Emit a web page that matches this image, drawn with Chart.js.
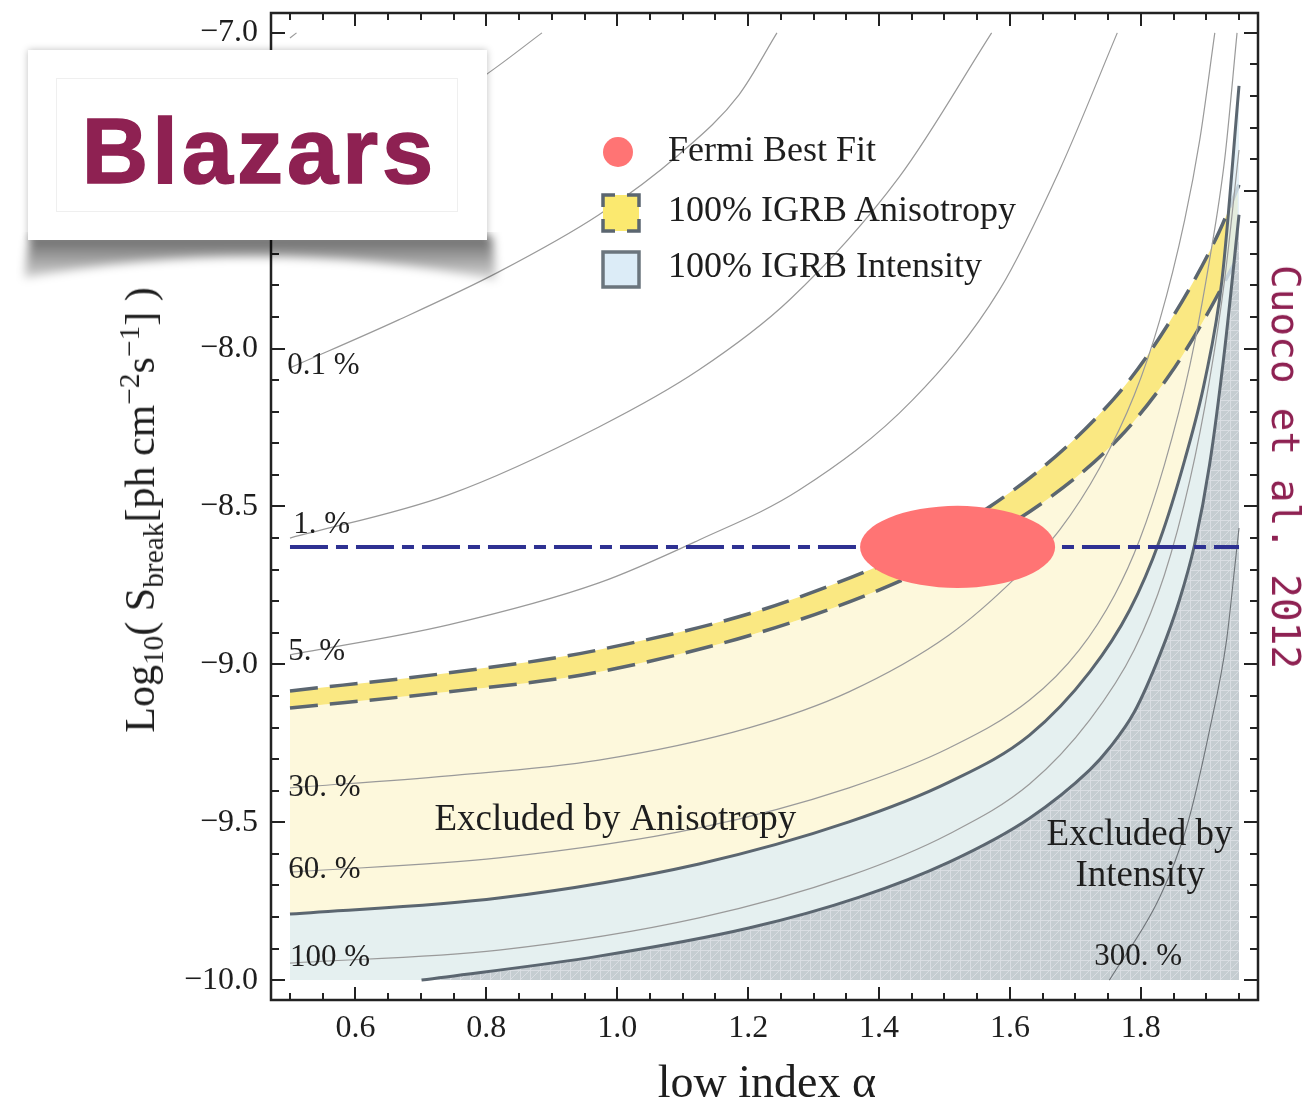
<!DOCTYPE html>
<html lang="en">
<head>
<meta charset="utf-8">
<title>Blazars - S_break vs low index</title>
<script src="https://cdn.jsdelivr.net/npm/chart.js@4.4.1/dist/chart.umd.min.js"></script>
<style>
  html, body { margin: 0; padding: 0; background: #fff; }
  #stage { position: relative; width: 1307px; height: 1103px; overflow: hidden; background: #fff; }
  #plot { position: absolute; left: 0; top: 0; display: block; }
  .serif { font-family: 'Liberation Serif', 'Times New Roman', serif; color: #1e1e1e; white-space: nowrap; }

  .blz-shadow { position: absolute; left: 16px; top: 232px; z-index: 9; }
  .blz { position: absolute; left: 28px; top: 50px; width: 459px; height: 190px; z-index: 10; background: #fff;
    box-shadow: 0 0 7px rgba(0,0,0,0.25); }
  .blz-inner { position: absolute; left: 28px; top: 28px; width: 402px; height: 134px; border: 1px solid #efefef; box-sizing: border-box; }
  .blz-text { position: absolute; left: 0; top: 55px; width: 100%; text-align: center; padding-left: 4px; box-sizing: border-box;
    font: bold 92px 'Liberation Sans', Arial, sans-serif; line-height: 92px; letter-spacing: 4px; color: #8E2152;
    -webkit-text-stroke: 1.5px #8E2152; }

  .leg-dot { position: absolute; left: 603px; top: 137px; width: 30px; height: 30px; border-radius: 50%; background: #FF7474; }
  .leg-text { position: absolute; left: 668px; font-size: 36px; line-height: 36px; }
  .leg-box { position: absolute; }

  .ytitle { position: absolute; left: 140px; top: 510px; transform: translate(-50%, -50%) rotate(-90deg);
    font-size: 42px; line-height: 42px; }
  .ytitle sub, .ytitle sup { font-size: 70%; line-height: 0; }
  .xtitle { position: absolute; left: 767px; top: 1082px; transform: translate(-50%, -50%); font-size: 46px; line-height: 46px; }
  .cite { position: absolute; left: 1286px; top: 467px; transform: translate(-50%, -50%) rotate(90deg);
    font-family: 'DejaVu Sans Mono', 'Liberation Mono', monospace; font-size: 39.5px; line-height: 40px; color: #8E2152; white-space: nowrap; }
</style>
</head>
<body>
<div id="stage">
  <canvas id="plot" width="1307" height="1103"></canvas>

  <svg class="blz-shadow" width="490" height="70">
    <defs>
      <filter id="soft" x="-10%" y="-40%" width="120%" height="180%"><feGaussianBlur stdDeviation="5"></feGaussianBlur></filter>
      <linearGradient id="shade" x1="0" y1="0" x2="0" y2="1">
        <stop offset="0" stop-color="#000" stop-opacity="0.6"></stop>
        <stop offset="1" stop-color="#000" stop-opacity="0.15"></stop>
      </linearGradient>
    </defs>
    <path d="M 14 4 L 476 4 L 480 48 Q 245 2 8 46 Z" fill="url(#shade)" filter="url(#soft)"></path>
  </svg>
  <div class="blz"><div class="blz-inner"></div><div class="blz-text">Blazars</div></div>

  <div class="leg-dot"></div>
  <div class="serif leg-text" style="top:131px">Fermi Best Fit</div>
  <svg class="leg-box" style="left:601px;top:193px" width="40" height="40">
    <rect x="2" y="2" width="36" height="36" fill="#FBE96F" stroke="#5B6670" stroke-width="3.5" stroke-dasharray="24 12" stroke-dashoffset="12"></rect>
  </svg>
  <div class="serif leg-text" style="top:191px">100% IGRB Anisotropy</div>
  <svg class="leg-box" style="left:601px;top:250px" width="40" height="40">
    <rect x="2" y="2" width="36" height="35" fill="#DCECF7" stroke="#6B757D" stroke-width="3.5"></rect>
  </svg>
  <div class="serif leg-text" style="top:247px">100% IGRB Intensity</div>

  <div class="serif ytitle">Log<sub>10</sub>( S<sub>break</sub>[ph cm<sup>&minus;2</sup>s<sup>&minus;1</sup>] )</div>
  <div class="serif xtitle">low index &alpha;</div>
  <div class="cite">Cuoco et al. 2012</div>
</div>

<script>
// axis ranges and ticks
const xRange = [0.471, 1.979];
const yRange = [-10.063, -6.937];
const xMajorTicks = [0.6, 0.8, 1.0, 1.2, 1.4, 1.6, 1.8];
const yMajorTicks = [-10.0, -9.5, -9.0, -8.5, -8.0, -7.5, -7.0];
const xMinorStep = 0.05;
const yMinorStep = 0.1;

// thin contours (fraction of IGRB)
const pct0001X = [0.5, 0.51];
const pct0001Y = [-7.016, -7.0];
const pct001X = [0.5, 0.666, 0.799, 0.885];
const pct001Y = [-7.481, -7.307, -7.133, -7.0];
const pct01X = [0.5, 0.666, 0.819, 0.972, 1.094, 1.186, 1.244];
const pct01Y = [-8.061, -7.909, -7.757, -7.576, -7.386, -7.196, -7.0];
const pct1X = [0.5, 0.742, 0.972, 1.125, 1.263, 1.431, 1.572];
const pct1Y = [-8.600, -8.463, -8.248, -8.067, -7.846, -7.456, -7.0];
const pct5X = [0.5, 0.742, 0.972, 1.125, 1.278, 1.451, 1.584, 1.676, 1.764];
const pct5Y = [-8.970, -8.875, -8.742, -8.606, -8.448, -8.163, -7.814, -7.434, -7.0];
const pct30X = [0.5, 0.742, 0.972, 1.201, 1.354, 1.507, 1.610, 1.676, 1.737, 1.790, 1.829, 1.867, 1.890, 1.913];
const pct30Y = [-9.391, -9.353, -9.303, -9.201, -9.087, -8.907, -8.723, -8.574, -8.378, -8.147, -7.909, -7.592, -7.339, -7.0];
const pct60X = [0.5, 0.819, 1.125, 1.354, 1.507, 1.630, 1.706, 1.760, 1.798, 1.836, 1.875, 1.905, 1.928, 1.947];
const pct60Y = [-9.658, -9.613, -9.518, -9.391, -9.265, -9.113, -8.954, -8.780, -8.606, -8.368, -8.052, -7.719, -7.402, -7.0];
const pct100X = [0.5, 0.819, 1.125, 1.354, 1.507, 1.630, 1.722, 1.790, 1.836, 1.875, 1.905, 1.928, 1.950];
const pct100Y = [-9.946, -9.905, -9.803, -9.670, -9.537, -9.379, -9.176, -8.954, -8.717, -8.416, -8.099, -7.782, -7.371];
const pct300X = [1.752, 1.829, 1.870, 1.905, 1.931, 1.943, 1.950];
const pct300Y = [-10.0, -9.737, -9.515, -9.208, -8.923, -8.701, -8.568];

// 100% IGRB anisotropy band (dashed edges)
const anisoUpperX = [0.5, 0.742, 0.972, 1.278, 1.569, 1.757, 1.841, 1.916, 1.950];
const anisoUpperY = [-9.084, -9.027, -8.954, -8.787, -8.501, -8.163, -7.925, -7.646, -7.481];
const anisoLowerX = [0.5, 0.742, 0.972, 1.278, 1.507, 1.660, 1.768, 1.844, 1.898, 1.948];
const anisoLowerY = [-9.138, -9.087, -9.024, -8.859, -8.663, -8.473, -8.280, -8.083, -7.903, -7.710];

// 100% IGRB intensity band (solid dark edges)
const intensUpperX = [0.5, 0.819, 1.125, 1.354, 1.507, 1.630, 1.722, 1.783, 1.829, 1.867, 1.898, 1.924, 1.950];
const intensUpperY = [-9.791, -9.740, -9.632, -9.499, -9.373, -9.224, -9.024, -8.828, -8.606, -8.353, -8.099, -7.782, -7.168];
const intensLowerX = [0.701, 0.972, 1.201, 1.370, 1.507, 1.630, 1.722, 1.752, 1.790, 1.829, 1.859, 1.882, 1.905, 1.928, 1.950];
const intensLowerY = [-10.0, -9.924, -9.835, -9.737, -9.626, -9.487, -9.334, -9.265, -9.151, -8.970, -8.796, -8.622, -8.368, -8.004, -7.576];

// Fermi best fit
const fermiCenter = [1.520, -8.628];
const fermiRadius = [0.149, 0.130];
const fermiLineX = [0.5, 1.95];
const fermiLineY = [-8.628, -8.628];

// labels
const contourLabels = ['0.1 %', '1. %', '5. %', '30. %', '60. %', '100 %', '300. %'];
const contourLabelX = [0.496, 0.505, 0.4975, 0.4975, 0.4975, 0.500, 1.729];
const contourLabelY = [-8.055, -8.558, -8.961, -9.391, -9.651, -9.930, -9.927];
const regionLabels = ['Excluded by Anisotropy', 'Excluded by', 'Intensity'];
const regionLabelX = [0.997, 1.798, 1.799];
const regionLabelY = [-9.525, -9.572, -9.702];

const SERIF = "'Liberation Serif', 'Times New Roman', serif";
const colLightYellow = '#FDF8DC';
const colBand = '#FAE882';
const colBlue = 'rgba(222,237,245,0.8)';
const colDark = '#5B6670';
const colThin = '#9a9a9a';

function stepList(a, b, step) {
  const out = [];
  for (let v = a; v <= b + 1e-9; v += step) out.push(Math.round(v * 1000) / 1000);
  return out;
}
const xTickList = stepList(0.5, 1.95, xMinorStep);
const yTickList = stepList(-10, -7, yMinorStep);
const isMajor = (list, v) => list.some((m) => Math.abs(m - v) < 1e-6);

function pts(xs, ys) {
  return xs.map((x, i) => ({ x, y: ys[i] }));
}

function hatch(base, line) {
  const c = document.createElement('canvas');
  c.width = 10; c.height = 10;
  const g = c.getContext('2d');
  g.fillStyle = base;
  g.fillRect(0, 0, 10, 10);
  g.strokeStyle = line;
  g.lineWidth = 1;
  g.beginPath();
  g.moveTo(0, 0.5); g.lineTo(10, 0.5);
  g.moveTo(0.5, 0); g.lineTo(0.5, 10);
  g.moveTo(0, 10); g.lineTo(10, 0);
  g.stroke();
  return g.createPattern(c, 'repeat');
}

function curve(xs, ys, extra) {
  return Object.assign({
    data: pts(xs, ys),
    pointRadius: 0,
    pointHoverRadius: 0,
    cubicInterpolationMode: 'monotone',
    fill: false,
    borderColor: 'rgba(0,0,0,0)',
    borderWidth: 1
  }, extra);
}

const grayFill = hatch('rgba(192,199,204,0.88)', 'rgba(218,223,227,0.9)');
const thinContours = [
  [pct0001X, pct0001Y], [pct001X, pct001Y], [pct01X, pct01Y], [pct1X, pct1Y],
  [pct5X, pct5Y], [pct30X, pct30Y], [pct60X, pct60Y], [pct100X, pct100Y]
];

const datasets = [
  curve(anisoUpperX, anisoUpperY, { fill: 1, backgroundColor: colBand, order: 90 }),
  curve(anisoLowerX, anisoLowerY, { fill: { value: -10 }, backgroundColor: colLightYellow, order: 100 }),
  curve(intensUpperX, intensUpperY, { fill: { value: -10 }, backgroundColor: colBlue, order: 80 }),
  curve(intensLowerX, intensLowerY, { fill: { value: -10 }, backgroundColor: grayFill, order: 70 }),
  ...thinContours.map((c) => curve(c[0], c[1], { borderColor: colThin, borderWidth: 1.2, order: 50 })),
  curve(pct300X, pct300Y, { borderColor: '#6f7479', borderWidth: 1.1, order: 50 }),
  curve(intensUpperX, intensUpperY, { borderColor: colDark, borderWidth: 3, order: 40 }),
  curve(intensLowerX, intensLowerY, { borderColor: colDark, borderWidth: 3, order: 40 }),
  curve(anisoUpperX, anisoUpperY, { borderColor: colDark, borderWidth: 3.5, borderDash: [28, 12], order: 85 }),
  curve(anisoLowerX, anisoLowerY, { borderColor: colDark, borderWidth: 3.5, borderDash: [28, 12], order: 85 }),
  curve(fermiLineX, fermiLineY, { borderColor: '#2E3192', borderWidth: 4, borderDash: [38, 8, 12, 8],
    cubicInterpolationMode: 'default', tension: 0, order: 20 })
];

// ellipse + in-plot text, drawn on top of the datasets
const annotations = {
  id: 'annotations',
  afterDatasetsDraw(chart) {
    const { ctx, scales: { x, y } } = chart;
    const cx = x.getPixelForValue(fermiCenter[0]);
    const cy = y.getPixelForValue(fermiCenter[1]);
    const rx = Math.abs(x.getPixelForValue(fermiCenter[0] + fermiRadius[0]) - cx);
    const ry = Math.abs(y.getPixelForValue(fermiCenter[1] + fermiRadius[1]) - cy);
    ctx.save();
    ctx.fillStyle = '#FF7474';
    ctx.beginPath();
    ctx.ellipse(cx, cy, rx, ry, 0, 0, Math.PI * 2);
    ctx.fill();

    ctx.fillStyle = '#1e1e1e';
    ctx.font = `31px ${SERIF}`;
    ctx.textAlign = 'left';
    ctx.textBaseline = 'middle';
    contourLabels.forEach((s, i) => {
      ctx.fillText(s, x.getPixelForValue(contourLabelX[i]), y.getPixelForValue(contourLabelY[i]));
    });

    ctx.font = `37px ${SERIF}`;
    ctx.textAlign = 'center';
    ctx.textBaseline = 'alphabetic';
    regionLabels.forEach((s, i) => {
      ctx.fillText(s, x.getPixelForValue(regionLabelX[i]), y.getPixelForValue(regionLabelY[i]));
    });
    ctx.restore();
  }
};

// frame with inward ticks on all four sides
const frame = {
  id: 'frame',
  afterDraw(chart) {
    const { ctx, chartArea: a, scales: { x, y } } = chart;
    ctx.save();
    ctx.strokeStyle = '#222';
    ctx.lineWidth = 2;
    ctx.beginPath();
    x.ticks.forEach((t) => {
      const px = Math.round(x.getPixelForValue(t.value));
      const len = t.label ? 13 : 7;
      ctx.moveTo(px, a.bottom); ctx.lineTo(px, a.bottom - len);
      ctx.moveTo(px, a.top); ctx.lineTo(px, a.top + len);
    });
    y.ticks.forEach((t) => {
      const py = Math.round(y.getPixelForValue(t.value));
      const len = t.label ? 14 : 8;
      ctx.moveTo(a.left, py); ctx.lineTo(a.left + len, py);
      ctx.moveTo(a.right, py); ctx.lineTo(a.right - len, py);
    });
    ctx.stroke();
    ctx.lineWidth = 2.5;
    ctx.strokeRect(a.left, a.top, a.right - a.left, a.bottom - a.top);
    ctx.restore();
  }
};

const tickFont = { family: SERIF, size: 32 };

new Chart(document.getElementById('plot'), {
  type: 'line',
  data: { datasets },
  options: {
    responsive: false,
    animation: false,
    devicePixelRatio: 1,
    layout: { autoPadding: false, padding: { top: 13, right: 49, left: 0, bottom: 0 } },
    plugins: { legend: { display: false }, tooltip: { enabled: false } },
    scales: {
      x: {
        type: 'linear',
        min: xRange[0],
        max: xRange[1],
        grid: { display: false, drawTicks: false },
        border: { display: false },
        afterBuildTicks: (s) => { s.ticks = xTickList.map((v) => ({ value: v })); },
        afterFit: (s) => { s.height = 103; s.paddingLeft = 0; s.paddingRight = 0; },
        ticks: {
          autoSkip: false, maxRotation: 0, minRotation: 0, padding: 9, color: '#1e1e1e', font: tickFont,
          callback: (v) => (isMajor(xMajorTicks, v) ? v.toFixed(1) : '')
        }
      },
      y: {
        type: 'linear',
        min: yRange[0],
        max: yRange[1],
        grid: { display: false, drawTicks: false },
        border: { display: false },
        afterBuildTicks: (s) => { s.ticks = yTickList.map((v) => ({ value: v })); },
        afterFit: (s) => { s.width = 271; s.paddingTop = 0; s.paddingBottom = 0; },
        ticks: {
          autoSkip: false, padding: 13, color: '#1e1e1e', font: tickFont,
          callback: (v) => (isMajor(yMajorTicks, v) ? '\u2212' + Math.abs(v).toFixed(1) : '')
        }
      }
    }
  },
  plugins: [annotations, frame]
});
</script>
</body>
</html>
